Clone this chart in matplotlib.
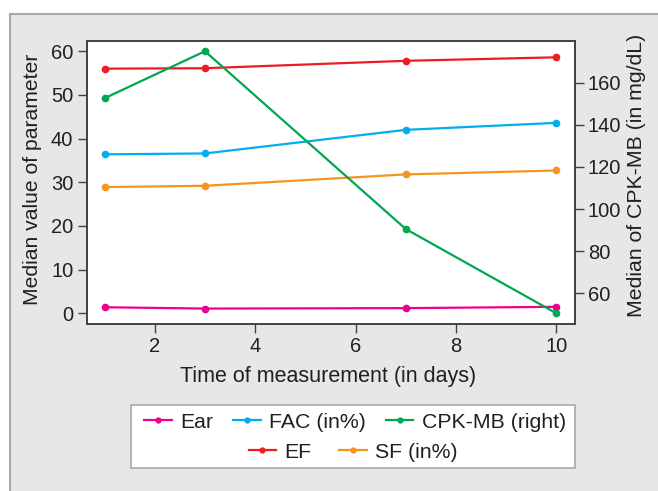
import matplotlib
matplotlib.use("Agg")
import matplotlib.pyplot as plt
from matplotlib.patches import Rectangle
from matplotlib.lines import Line2D

plt.rcParams['font.family'] = ['Liberation Sans', 'DejaVu Sans']

days = [1, 3, 7, 10]
ear = [1.4, 1.1, 1.2, 1.5]
fac = [36.4, 36.6, 42.0, 43.6]
ef = [56.0, 56.1, 57.8, 58.6]
sf = [28.9, 29.2, 31.8, 32.7]
cpk_mb = [152.6, 174.9, 90.5, 50.5]

labels = ["Ear", "FAC (in%)", "CPK-MB (right)", "EF", "SF (in%)"]
colors = {"Ear": "#ec008c", "FAC (in%)": "#00aeef", "CPK-MB (right)": "#00a651",
          "EF": "#ed1c24", "SF (in%)": "#f7941d"}

W, H = 658, 491
fig = plt.figure(figsize=(W / 100, H / 100), dpi=100)
fig.patch.set_facecolor("white")
panel = Rectangle((9.5 / W, -0.01), 1.0, (H - 13.5) / H + 0.01, transform=fig.transFigure,
                  facecolor="#e6e7e8", edgecolor="#a7a9ac", linewidth=1.5, zorder=-10)
fig.patches.append(panel)

L, R, T, B = 86.5, 574.5, 40.7, 324.3
ax = fig.add_axes([L / W, 1 - B / H, (R - L) / W, (B - T) / H])
ax.set_facecolor("white")
ax2 = ax.twinx()

lw = 1.6
ms = 4.5
ax.plot(days, ef, color=colors["EF"], lw=lw, marker="o", ms=ms)
ax.plot(days, fac, color=colors["FAC (in%)"], lw=lw, marker="o", ms=ms)
ax.plot(days, sf, color=colors["SF (in%)"], lw=lw, marker="o", ms=ms)
ax.plot(days, ear, color=colors["Ear"], lw=lw, marker="o", ms=ms)
ax2.plot(days, cpk_mb, color=colors["CPK-MB (right)"], lw=lw, marker="o", ms=ms)

ax.set_xlim(0.64, 10.36)
ax.set_ylim(-2.5, 62.4)
ax2.set_ylim(45.3, 179.9)
ax.set_xticks([2, 4, 6, 8, 10])
ax.set_yticks([0, 10, 20, 30, 40, 50, 60])
ax2.set_yticks([60, 80, 100, 120, 140, 160])

tick_color = "#231f20"
for a in (ax, ax2):
    for s in a.spines.values():
        s.set_color("#414042")
        s.set_linewidth(1.2)
    a.tick_params(length=6.5, width=1.0, color="#414042", labelsize=14.5,
                  labelcolor=tick_color, pad=3)
ax.tick_params(axis="x", pad=2.5)

ax.set_xlabel("Time of measurement (in days)", fontsize=15.5, color=tick_color)
ax.set_ylabel("Median value of parameter", fontsize=15.2, color=tick_color)
ax2.set_ylabel("Median of CPK-MB (in mg/dL)", fontsize=15.3, color=tick_color)
aw, ah = R - L, B - T
ax.xaxis.set_label_coords(0.494, (B - 366) / ah)
ax.yaxis.set_label_coords((41.7 - L) / aw, 0.512)
ax2.yaxis.set_label_coords((627 - L) / aw, 0.526)

# legend frame
lx0, lx1, ly0, ly1 = 131, 575, 405, 468
frame = Rectangle((lx0 / W, 1 - ly1 / H), (lx1 - lx0) / W, (ly1 - ly0) / H,
                  transform=fig.transFigure, facecolor="white", edgecolor="#a7a9ac",
                  linewidth=1.2, zorder=-5)
fig.patches.append(frame)

def handle(lbl):
    return Line2D([], [], color=colors[lbl], lw=lw, marker="o", ms=3.5)

row1 = labels[:3]
row2 = labels[3:]
leg_kw = dict(frameon=False, fontsize=15.3, handlelength=1.3, handletextpad=0.38,
              borderpad=0, labelcolor=tick_color)
fig.legend([handle(l) for l in row1], row1, ncol=3, loc="center", columnspacing=0.95,
           bbox_to_anchor=(355 / W, 1 - 422 / H), **leg_kw)
fig.legend([handle(l) for l in row2], row2, ncol=2, loc="center", columnspacing=1.3,
           bbox_to_anchor=(353 / W, 1 - 452 / H), **leg_kw)

fig.savefig("out.png", dpi=100, facecolor=fig.get_facecolor())
